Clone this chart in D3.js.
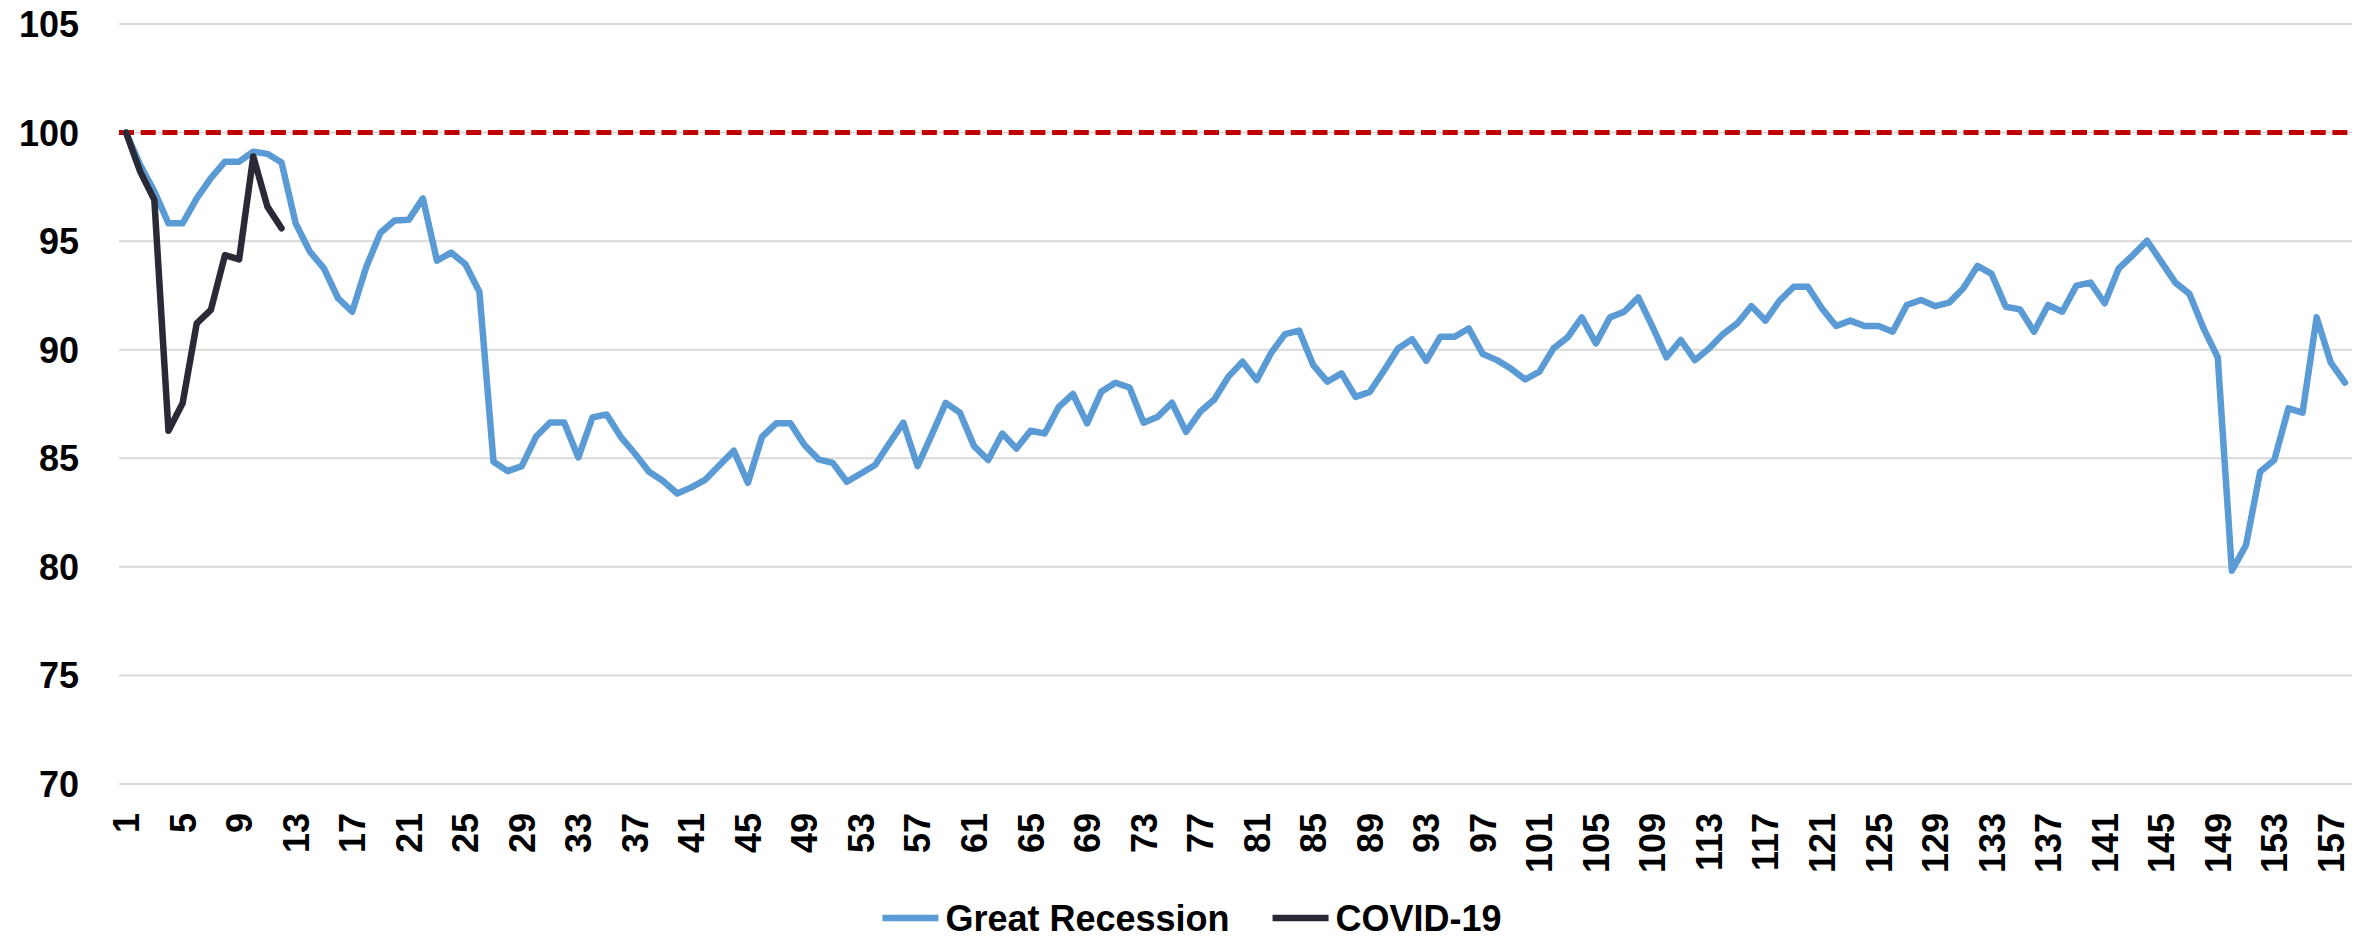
<!DOCTYPE html>
<html>
<head>
<meta charset="utf-8">
<script src="https://cdn.jsdelivr.net/npm/d3@7"></script>
<style>
  html, body { margin: 0; padding: 0; background: #fff; }
  svg text { font-family: "Liberation Sans", Arial, sans-serif; font-weight: bold; fill: #000; }
</style>
</head>
<body>
<div id="chart"></div>
<script>
  // index values, month 1 = 100
  let greatRecession = [
    100, 98.5, 97.3, 95.82, 95.82, 96.97, 97.9, 98.66, 98.66, 99.12,
    99.02, 98.62, 95.82, 94.52, 93.75, 92.37, 91.75, 93.82, 95.39, 95.95,
    95.98, 96.97, 94.1, 94.47, 93.95, 92.67, 84.84, 84.41, 84.64, 85.99,
    86.65, 86.65, 85.04, 86.88, 87.02, 85.99, 85.22, 84.38, 83.95, 83.38,
    83.66, 84.02, 84.69, 85.35, 83.87, 85.99, 86.61, 86.61, 85.61, 84.95,
    84.79, 83.92, 84.3, 84.69, 85.68, 86.64, 84.64, 86.07, 87.55, 87.1,
    85.56, 84.92, 86.14, 85.45, 86.27, 86.14, 87.37, 87.96, 86.61, 88.06,
    88.48, 88.26, 86.64, 86.91, 87.56, 86.22, 87.14, 87.71, 88.76, 89.45,
    88.6, 89.83, 90.72, 90.88, 89.29, 88.53, 88.91, 87.83, 88.06, 89.03,
    90.06, 90.48, 89.49, 90.6, 90.6, 90.98, 89.8, 89.52, 89.12, 88.63,
    88.99, 90.06, 90.57, 91.49, 90.29, 91.49, 91.75, 92.41, 91.06, 89.65,
    90.45, 89.52, 90.06, 90.72, 91.21, 92.01, 91.34, 92.26, 92.9, 92.9,
    91.9, 91.09, 91.34, 91.09, 91.09, 90.83, 92.06, 92.29, 92.01, 92.17,
    92.83, 93.86, 93.49, 91.98, 91.86, 90.83, 92.06, 91.75, 92.95, 93.09,
    92.14, 93.75, 94.36, 95.02, 94.06, 93.09, 92.57, 90.98, 89.65, 79.82,
    81.0, 84.38, 84.92, 87.3, 87.1, 91.49, 89.4, 88.48
  ]
  let covid19 = [100, 98.2, 96.9, 86.27, 87.53, 91.21, 91.83, 94.36, 94.16, 98.9, 96.59, 95.59]
  let months = d3.range(1, greatRecession.length + 1)
  let monthTicks = months.filter(function(m) { return (m - 1) % 4 === 0 })
  let yTicks = [70, 75, 80, 85, 90, 95, 100, 105]
  let baseline = 100

  let series = [
    { name: 'Great Recession', values: greatRecession, color: '#5b9bd5' },
    { name: 'COVID-19',        values: covid19,        color: '#2a2a36' }
  ]

  let width  = 2372,
      height = 944,
      margin = { top: 24, right: 20, bottom: 160, left: 119 }

  let svg = d3.select('#chart')
              .append('svg:svg')
              .attr('width', width)
              .attr('height', height)

  let x = d3.scalePoint()
            .domain(months)
            .range([margin.left, width - margin.right])
            .padding(0.5)

  let y = d3.scaleLinear()
            .domain([70, 105])
            .range([height - margin.bottom, margin.top])

  // gridlines
  svg.append('svg:g')
    .selectAll('line')
    .data(yTicks)
    .enter()
    .append('svg:line')
      .attr('x1', margin.left)
      .attr('x2', width - margin.right)
      .attr('y1', function(d) { return y(d) })
      .attr('y2', function(d) { return y(d) })
      .attr('stroke', '#d9d9d9')
      .attr('stroke-width', 2)

  // y labels
  svg.append('svg:g')
    .selectAll('text')
    .data(yTicks)
    .enter()
    .append('svg:text')
      .attr('x', 79)
      .attr('y', function(d) { return y(d) })
      .attr('dy', '0.36em')
      .attr('text-anchor', 'end')
      .style('font-size', '36px')
      .text(function(d) { return d })

  // x labels, rotated
  svg.append('svg:g')
    .selectAll('text')
    .data(monthTicks)
    .enter()
    .append('svg:text')
      .attr('transform', function(d) { return 'translate(' + x(d) + ',' + (y(70) + 29) + ') rotate(-90)' })
      .attr('dy', '0.36em')
      .attr('text-anchor', 'end')
      .style('font-size', '36px')
      .text(function(d) { return d })

  // 100 reference line
  svg.append('svg:line')
    .attr('x1', margin.left)
    .attr('x2', width - margin.right)
    .attr('y1', y(baseline))
    .attr('y2', y(baseline))
    .attr('stroke', '#c00000')
    .attr('stroke-width', 5)
    .attr('stroke-dasharray', '15 6.7')

  let lineFunction = d3.line()
                       .x(function(d, i) { return x(months[i]) })
                       .y(function(d) { return y(d) })

  svg.append('svg:g')
    .selectAll('path')
    .data(series)
    .enter()
    .append('svg:path')
      .attr('d', function(d) { return lineFunction(d.values) })
      .attr('fill', 'none')
      .attr('stroke', function(d) { return d.color })
      .attr('stroke-width', 6.5)
      .attr('stroke-linejoin', 'round')
      .attr('stroke-linecap', 'round')

  // legend, centred under the chart
  let legend = svg.append('svg:g'),
      legendY = 918,
      sampleLen = 56,
      textGap = 7,
      itemGap = 43,
      items = []

  series.forEach(function(s) {
    let g = legend.append('svg:g')
    g.append('svg:line')
      .attr('x1', 0).attr('x2', sampleLen)
      .attr('y1', legendY).attr('y2', legendY)
      .attr('stroke', s.color)
      .attr('stroke-width', 6.5)
    let t = g.append('svg:text')
      .attr('x', sampleLen + textGap)
      .attr('y', legendY)
      .attr('dy', '0.36em')
      .style('font-size', '36px')
      .text(s.name)
    items.push({ g: g, w: sampleLen + textGap + t.node().getComputedTextLength() })
  })

  let total = d3.sum(items, function(d) { return d.w }) + itemGap * (items.length - 1),
      cursor = width / 2 + 6 - total / 2
  items.forEach(function(it) {
    it.g.attr('transform', 'translate(' + cursor + ',0)')
    cursor += it.w + itemGap
  })
</script>
</body>
</html>
